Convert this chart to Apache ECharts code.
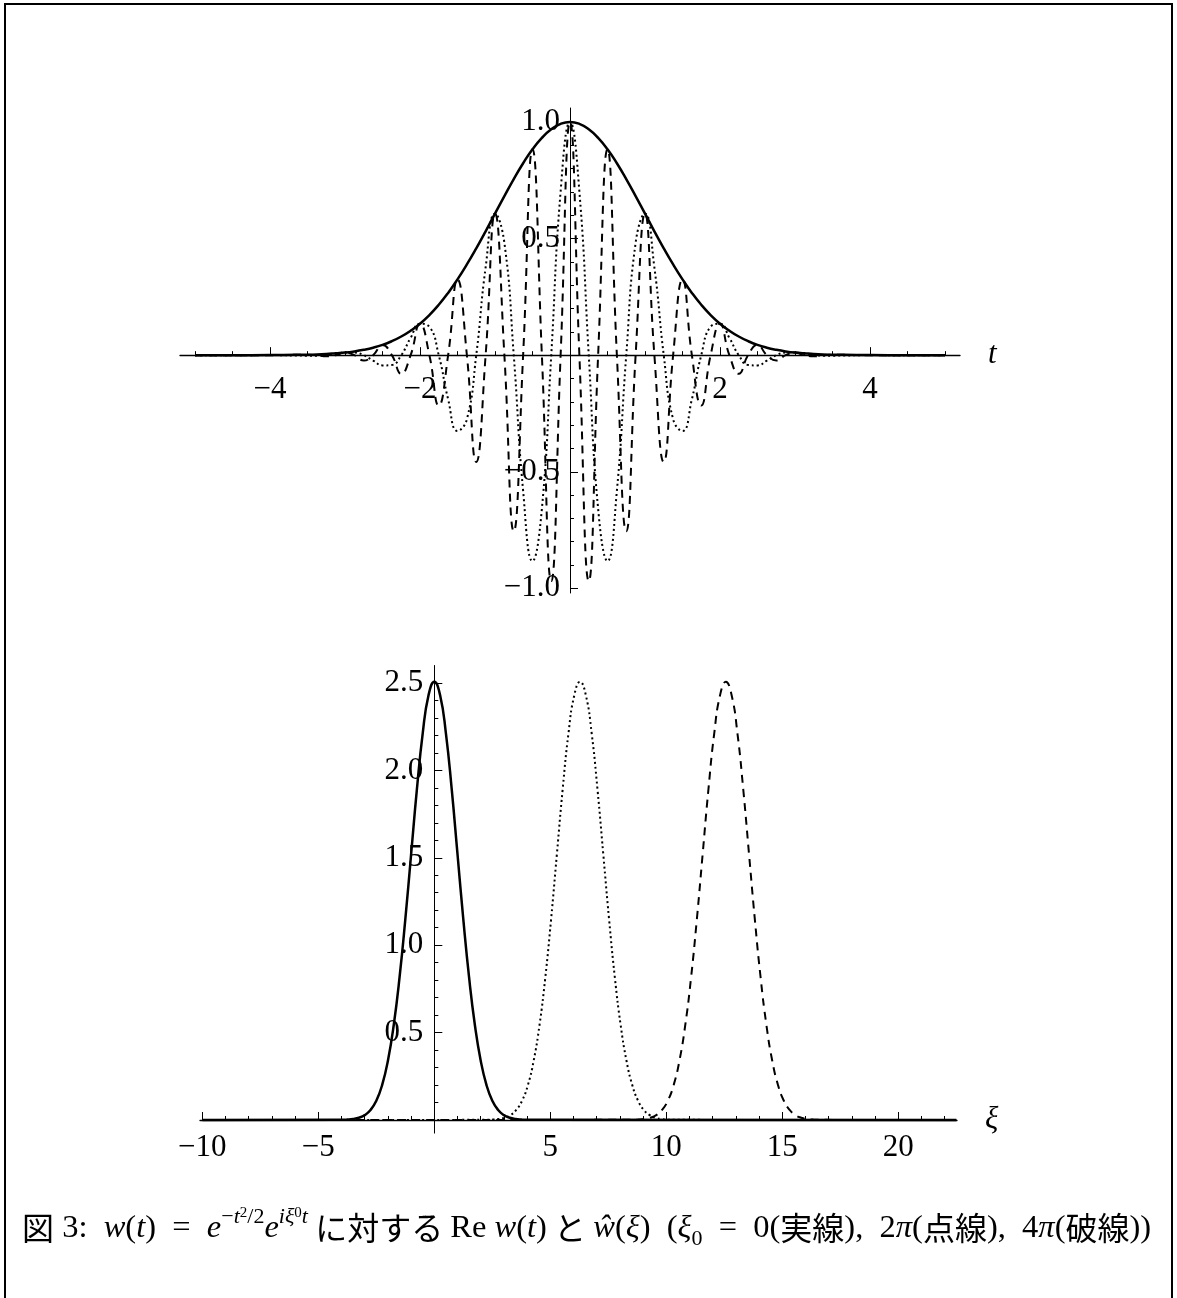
<!DOCTYPE html>
<html>
<head>
<meta charset="utf-8">
<title>図 3</title>
<script src="https://cdn.jsdelivr.net/npm/echarts@6.0.0/dist/echarts.min.js"></script>
<style>
  html, body { margin: 0; padding: 0; background: #fff; }
  #chart { width: 1177px; height: 1298px; }
</style>
</head>
<body>
<div id="chart"></div>
<script>
'use strict';

var tValues = [-5, -4.5, -4,
    -3.5, -3.375, -3.25, -3.125, -3, -2.875, -2.75, -2.625, -2.5, -2.375, -2.25, -2.125,
    -2, -1.875, -1.75, -1.625, -1.5, -1.375, -1.25, -1.125, -1, -0.875, -0.75, -0.625,
    -0.5, -0.375, -0.25, -0.125, 0, 0.125, 0.25, 0.375, 0.5, 0.625, 0.75, 0.875,
    1, 1.125, 1.25, 1.375, 1.5, 1.625, 1.75, 1.875, 2, 2.125, 2.25, 2.375,
    2.5, 2.625, 2.75, 2.875, 3, 3.125, 3.25, 3.375, 3.5,
    4, 4.5, 5];
// xi0 = 0 (solid)
var reSolid = [0, 0, 0.0003,
    0.002, 0.003, 0.005, 0.008, 0.011, 0.016, 0.023, 0.032, 0.044, 0.060, 0.080, 0.105,
    0.135, 0.172, 0.216, 0.267, 0.325, 0.389, 0.458, 0.531, 0.607, 0.682, 0.755, 0.823,
    0.883, 0.932, 0.969, 0.992, 1, 0.992, 0.969, 0.932, 0.883, 0.823, 0.755, 0.682,
    0.607, 0.531, 0.458, 0.389, 0.325, 0.267, 0.216, 0.172, 0.135, 0.105, 0.080, 0.060,
    0.044, 0.032, 0.023, 0.016, 0.011, 0.008, 0.005, 0.003, 0.002,
    0.0003, 0, 0];
// xi0 = 2pi (dotted)
var reDotted = [0, 0, 0.0003,
    -0.002, -0.002, 0, 0.005, 0.011, 0.011, 0, -0.023, -0.044, -0.042, 0, 0.074,
    0.135, 0.122, 0, -0.189, -0.325, -0.275, 0, 0.376, 0.607, 0.482, 0, -0.582,
    -0.883, -0.659, 0, 0.702, 1, 0.702, 0, -0.659, -0.883, -0.582, 0, 0.482,
    0.607, 0.376, 0, -0.275, -0.325, -0.189, 0, 0.122, 0.135, 0.074, 0, -0.042,
    -0.044, -0.023, 0, 0.011, 0.011, 0.005, 0, -0.002, -0.002,
    0.0003, 0, 0];
// xi0 = 4pi (dashed)
var reDashed = [0, 0, 0,
    0.002, 0, -0.005, 0, 0.011, 0, -0.023, 0, 0.044, 0, -0.080, 0,
    0.135, 0, -0.216, 0, 0.325, 0, -0.458, 0, 0.607, 0, -0.755, 0,
    0.883, 0, -0.969, 0, 1, 0, -0.969, 0, 0.883, 0, -0.755, 0,
    0.607, 0, -0.458, 0, 0.325, 0, -0.216, 0, 0.135, 0, -0.080, 0,
    0.044, 0, -0.023, 0, 0.011, 0, -0.005, 0, 0.002,
    0, 0, 0];

var xiOffsets = [-4, -3.75, -3.5, -3.25, -3, -2.75, -2.5, -2.25, -2, -1.75, -1.5, -1.25, -1,
    -0.75, -0.5, -0.25, 0, 0.25, 0.5, 0.75, 1, 1.25, 1.5, 1.75, 2, 2.25, 2.5, 2.75, 3,
    3.25, 3.5, 3.75, 4];
var wHatValues = [0.0008, 0.0022, 0.0055, 0.0128, 0.0278, 0.0572, 0.1101, 0.1994, 0.3392,
    0.5421, 0.8138, 1.1476, 1.5203, 1.8921, 2.2121, 2.4295, 2.5066, 2.4295, 2.2121, 1.8921,
    1.5203, 1.1476, 0.8138, 0.5421, 0.3392, 0.1994, 0.1101, 0.0572, 0.0278, 0.0128, 0.0055,
    0.0022, 0.0008];
var xiPeaks = [0, 6.283, 12.566];
var xiEnds = [-10, 22.5];

// ticks
var tMajor = [-4, -2, 2, 4];
var tMinor = [-5, -4.5, -3.5, -3, -2.5, -1.5, -1, -0.5, 0.5, 1, 1.5, 2.5, 3, 3.5, 4.5, 5];
var reMajor = [-1, -0.5, 0.5, 1];
var reMinor = [-0.9, -0.8, -0.7, -0.6, -0.4, -0.3, -0.2, -0.1, 0.1, 0.2, 0.3, 0.4, 0.6, 0.7, 0.8, 0.9];
var xiMajor = [-10, -5, 5, 10, 15, 20];
var xiMinor = [-9, -8, -7, -6, -4, -3, -2, -1, 1, 2, 3, 4, 6, 7, 8, 9, 11, 12, 13, 14,
    16, 17, 18, 19, 21, 22];
var wMajor = [0.5, 1, 1.5, 2, 2.5];
var wMinor = [0.1, 0.2, 0.3, 0.4, 0.6, 0.7, 0.8, 0.9, 1.1, 1.2, 1.3, 1.4, 1.6, 1.7, 1.8, 1.9,
    2.1, 2.2, 2.3, 2.4];

var tRange = [-5.2, 5.2];
var reRange = [-1.02, 1.06];
var xiRange = [-10.1, 22.53];
var wRange = [-0.075, 2.6];

var SERIF = '"Liberation Serif", "DejaVu Serif", serif';
var JP = '"Noto Sans CJK JP", sans-serif';
var LABEL_SIZE = 31;
var CAP_SIZE = 32.5;
var CAP_SMALL = 22;

var topGrid = { left: 180, top: 108, width: 780, height: 485 };
var bottomGrid = { left: 200, top: 665.5, width: 757, height: 467.6 };

function minus(s) {
    return String(s).replace('-', '\u2212');
}

function fmtInt(v) {
    return minus(v);
}

function fmtDec(v) {
    return minus(v.toFixed(1));
}

function pairs(xs, ys) {
    var out = [];
    for (var i = 0; i < xs.length; i++) {
        out.push([xs[i], ys[i]]);
    }
    return out;
}

function bump(peak) {
    var out = [[xiEnds[0], 0]];
    for (var i = 0; i < xiOffsets.length; i++) {
        out.push([peak + xiOffsets[i], wHatValues[i]]);
    }
    out.push([xiEnds[1], 0]);
    return out;
}

// axes cross at the origin: shift them from the grid edge with offset
function xOffsetToZero(grid, yRange) {
    var zeroY = grid.top + grid.height * yRange[1] / (yRange[1] - yRange[0]);
    return zeroY - (grid.top + grid.height);
}

function yOffsetToZero(grid, xRange) {
    var zeroX = grid.left + grid.width * -xRange[0] / (xRange[1] - xRange[0]);
    return grid.left - zeroX;
}

// two axes per side: one for line, labels and long ticks, one for short ticks only
function makeXAxes(grid, range, offset, major, minor, margin, name) {
    return [{
        type: 'value', gridIndex: grid, min: range[0], max: range[1], position: 'bottom', offset: offset,
        name: name, nameLocation: 'end', nameGap: 28,
        nameTextStyle: { fontFamily: SERIF, fontStyle: 'italic', fontSize: 31, color: '#000' },
        axisLine: { onZero: false, lineStyle: { color: '#000', width: 1.3 } },
        axisTick: { inside: true, length: 8, customValues: major, lineStyle: { color: '#000', width: 1 } },
        axisLabel: { customValues: major, margin: margin, formatter: fmtInt,
            fontFamily: SERIF, fontSize: LABEL_SIZE, color: '#000' },
        splitLine: { show: false }
    }, {
        type: 'value', gridIndex: grid, min: range[0], max: range[1], position: 'bottom', offset: offset,
        axisLine: { show: false, onZero: false },
        axisTick: { inside: true, length: 4, customValues: minor, lineStyle: { color: '#000', width: 1 } },
        axisLabel: { show: false },
        splitLine: { show: false }
    }];
}

function makeYAxes(grid, range, offset, major, minor, margin) {
    return [{
        type: 'value', gridIndex: grid, min: range[0], max: range[1], position: 'left', offset: offset,
        axisLine: { onZero: false, lineStyle: { color: '#000', width: 1 } },
        axisTick: { inside: true, length: 8, customValues: major, lineStyle: { color: '#000', width: 1 } },
        axisLabel: { customValues: major, margin: margin, formatter: fmtDec,
            fontFamily: SERIF, fontSize: LABEL_SIZE, color: '#000' },
        splitLine: { show: false }
    }, {
        type: 'value', gridIndex: grid, min: range[0], max: range[1], position: 'left', offset: offset,
        axisLine: { show: false, onZero: false },
        axisTick: { inside: true, length: 4, customValues: minor, lineStyle: { color: '#000', width: 1 } },
        axisLabel: { show: false },
        splitLine: { show: false }
    }];
}

function curve(xIdx, yIdx, data, width, dash) {
    return {
        type: 'line', xAxisIndex: xIdx, yAxisIndex: yIdx, data: data,
        smooth: 0.5, symbol: 'none', silent: true, z: 3,
        lineStyle: { color: '#000', width: width, type: dash }
    };
}

var caption = '{jp|図}{n| 3:  }{i|w}{n|(}{i|t}{n|)  =  }{i|e}{sup|\u2212}{supi|t}{sup2|2}{sup|/2}' +
    '{i|e}{supi|iξ}{supsub|0}{supi|t}{jp| に対する }{n|Re }{i|w}{n|(}{i|t}{n|)}{jp| と }' +
    '{i|ŵ}{n|(}{i|ξ}{n|)  (}{i|ξ}{sub|0}{n|  =  0(}{jp|実線}{n|),  2}{i|π}{n|(}{jp|点線}' +
    '{n|),  4}{i|π}{n|(}{jp|破線}{n|))}';

var chart = echarts.init(document.getElementById('chart'), null, { renderer: 'canvas' });

var option = {
    animation: false,
    backgroundColor: '#fff',
    grid: [
        { left: topGrid.left, top: topGrid.top, width: topGrid.width, height: topGrid.height, outerBoundsMode: 'none' },
        { left: bottomGrid.left, top: bottomGrid.top, width: bottomGrid.width, height: bottomGrid.height, outerBoundsMode: 'none' }
    ],
    xAxis: makeXAxes(0, tRange, xOffsetToZero(topGrid, reRange), tMajor, tMinor, 19, 't')
        .concat(makeXAxes(1, xiRange, xOffsetToZero(bottomGrid, wRange), xiMajor, xiMinor, 12, 'ξ')),
    yAxis: makeYAxes(0, reRange, yOffsetToZero(topGrid, tRange), reMajor, reMinor, 10)
        .concat(makeYAxes(1, wRange, yOffsetToZero(bottomGrid, xiRange), wMajor, wMinor, 11)),
    series: [
        curve(0, 0, pairs(tValues, reSolid), 2.5, 'solid'),
        curve(0, 0, pairs(tValues, reDotted), 2, [2, 3]),
        curve(0, 0, pairs(tValues, reDashed), 2, [8, 6]),
        curve(2, 2, bump(xiPeaks[0]), 2.5, 'solid'),
        curve(2, 2, bump(xiPeaks[1]), 2, [2, 3]),
        curve(2, 2, bump(xiPeaks[2]), 2, [8, 6])
    ],
    graphic: [{
        type: 'rect', silent: true,
        shape: { x: 5, y: 4, width: 1167, height: 1330 },
        style: { fill: 'none', stroke: '#000', lineWidth: 2 }
    }, {
        type: 'text', silent: true, x: 22, y: 1228,
        style: {
            text: caption,
            align: 'left',
            verticalAlign: 'middle',
            fill: '#000',
            rich: {
                n: { fontFamily: SERIF, fontSize: CAP_SIZE, lineHeight: 44, fill: '#000' },
                i: { fontFamily: SERIF, fontSize: CAP_SIZE, fontStyle: 'italic', lineHeight: 44, fill: '#000' },
                jp: { fontFamily: JP, fontSize: 32, lineHeight: 44, fill: '#000' },
                sup: { fontFamily: SERIF, fontSize: CAP_SMALL, lineHeight: 26, verticalAlign: 'top', fill: '#000' },
                supi: { fontFamily: SERIF, fontSize: CAP_SMALL, fontStyle: 'italic', lineHeight: 26, verticalAlign: 'top', fill: '#000' },
                sup2: { fontFamily: SERIF, fontSize: 15, lineHeight: 14, verticalAlign: 'top', fill: '#000' },
                supsub: { fontFamily: SERIF, fontSize: 15, lineHeight: 34, verticalAlign: 'top', fill: '#000' },
                sub: { fontFamily: SERIF, fontSize: CAP_SMALL, lineHeight: 28, verticalAlign: 'bottom', fill: '#000' }
            }
        }
    }]
};

chart.setOption(option);
</script>
</body>
</html>
